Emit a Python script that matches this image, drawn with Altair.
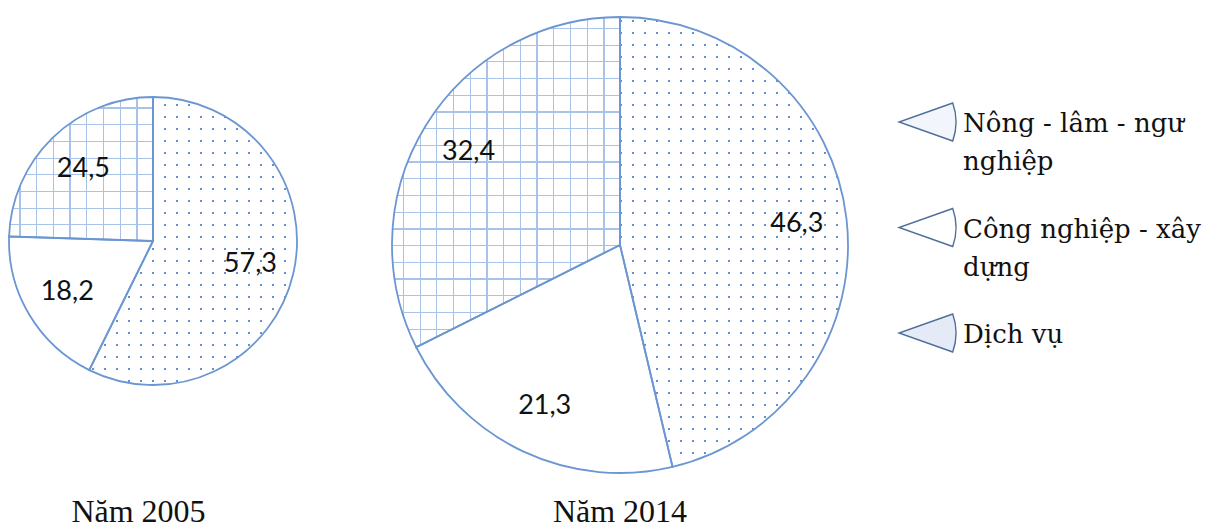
import math
import altair as alt
import pandas as pd

# ---------------- data ----------------
categories = ["Nông - lâm - ngư nghiệp", "Công nghiệp - xây dựng", "Dịch vụ"]
years = ["2005", "2014"]
values_2005 = [57.3, 18.2, 24.5]
values_2014 = [46.3, 21.3, 32.4]
value_labels_2005 = ["57,3", "18,2", "24,5"]
value_labels_2014 = ["46,3", "21,3", "32,4"]
legend_line1 = ["Nông - lâm - ngư", "Công nghiệp - xây", "Dịch vụ"]
legend_line2 = ["nghiệp", "dựng", ""]
titles = ["Năm 2005", "Năm 2014"]

rows = []
for yr, vals, labs in [("2005", values_2005, value_labels_2005),
                       ("2014", values_2014, value_labels_2014)]:
    for i, (c, v, l) in enumerate(zip(categories, vals, labs)):
        rows.append({"year": yr, "cat": c, "idx": i, "value": v, "label": l})
df = pd.DataFrame(rows)
legend_df = pd.DataFrame({"cat": categories, "idx": list(range(3)),
                          "line1": legend_line1, "line2": legend_line2})
title_df = pd.DataFrame({"title": titles, "idx": [0, 1]})

# ---------------- style / layout ----------------
EDGE = "#6b96d2"
DOT = "#6590d0"
GRID = "#a9c2e8"
CLEAR = "rgba(255,255,255,0)"
SERIF = "Liberation Serif"
LEGEND_FONT = "DejaVu Serif"
PIES = {"2005": (145, 233, 144, 100), "2014": (612, 237, 228, 178)}
theta_scale = alt.Scale(domain=[0, 100], range=[0, 2 * math.pi])


def wedge_bbox(cx, cy, r, a0, a1):
    pts = [(cx, cy)]
    angs = [a0, a1] + [a for a in (0, 90, 180, 270, 360) if a0 < a < a1]
    for a in angs:
        t = math.radians(a)
        pts.append((cx + r * math.sin(t), cy - r * math.cos(t)))
    xs = [p[0] for p in pts]
    ys = [p[1] for p in pts]
    return min(xs), max(xs), min(ys), max(ys)


def stripes(lo, hi, period, width, line, bg, vertical, phase=0.0):
    length = hi - lo
    stops = [(0.0, bg)]
    k = math.floor((lo - phase) / period)
    while True:
        p = phase + k * period
        if p >= hi:
            break
        a, b = max(p, lo), min(p + width, hi)
        if b > a:
            o1, o2 = round((a - lo) / length, 5), round((b - lo) / length, 5)
            stops += [(o1, bg), (o1, line), (o2, line), (o2, bg)]
        k += 1
    stops.append((1.0, bg))
    gs = [alt.GradientStop(offset=o, color=c) for o, c in stops]
    if vertical:
        return alt.LinearGradient(gradient="linear", stops=gs, x1=0, y1=0, x2=1, y2=0)
    return alt.LinearGradient(gradient="linear", stops=gs, x1=0, y1=0, x2=0, y2=1)


layers = []
for yr, vals in [("2005", values_2005), ("2014", values_2014)]:
    cx, cy, r, rl = PIES[yr]
    base = (alt.Chart(df)
            .transform_filter(alt.datum.year == yr)
            .transform_stack(stack="value", as_=["v0", "v1"], groupby=["year"],
                             sort=[alt.SortField("idx", order="ascending")]))
    enc = dict(theta=alt.Theta("v0:Q", scale=theta_scale), theta2=alt.Theta2("v1:Q"),
               x=alt.value(cx), y=alt.value(cy))
    layers.append(base.mark_arc(outerRadius=r, fill="white", strokeWidth=0).encode(**enc))

    cum = [0]
    for v in vals:
        cum.append(cum[-1] + v)
    # dotted pattern on slice 0
    a0, a1 = cum[0] * 3.6, cum[1] * 3.6
    x0, x1, y0, y1 = wedge_bbox(cx, cy, r, a0, a1)
    gA = stripes(x0, x1, 12, 2, DOT, CLEAR, True)
    gB = stripes(y0, y1, 12, 2, CLEAR, "#ffffff", False)
    for g in (gA, gB):
        layers.append(base.transform_filter(alt.datum.idx == 0)
                      .mark_arc(outerRadius=r, fill=g, strokeWidth=0).encode(**enc))
    # grid pattern on slice 2
    a0, a1 = cum[2] * 3.6, cum[3] * 3.6
    x0, x1, y0, y1 = wedge_bbox(cx, cy, r, a0, a1)
    gV = stripes(x0, x1, 16.7, 1.2, GRID, CLEAR, True, phase=cx % 16.7)
    gH = stripes(y0, y1, 16.7, 1.2, GRID, CLEAR, False, phase=cy % 16.7)
    for g in (gV, gH):
        layers.append(base.transform_filter(alt.datum.idx == 2)
                      .mark_arc(outerRadius=r, fill=g, strokeWidth=0).encode(**enc))
    # outlines
    layers.append(base.mark_arc(outerRadius=r, fill="white", fillOpacity=0,
                                stroke=EDGE, strokeWidth=1.8).encode(**enc))
    # value labels
    layers.append(base.transform_calculate(mid="(datum.v0 + datum.v1) / 2")
                  .mark_text(radius=rl, font="Lato", fontSize=27, color="#111111")
                  .encode(theta=alt.Theta("mid:Q", scale=theta_scale), text="label:N",
                          x=alt.value(cx), y=alt.value(cy)))

# titles
layers.append(alt.Chart(title_df).mark_text(font=SERIF, fontSize=32,
                                            color="#111111", baseline="alphabetic")
              .encode(x=alt.X("idx:Q", scale=alt.Scale(domain=[0, 1], range=[130.5, 612]), axis=None),
                      y=alt.value(514), text="title:N"))

# legend
leg_y = alt.Y("idx:Q", stack=None, scale=alt.Scale(domain=[0, 2], range=[114, 325]), axis=None)
layers.append(alt.Chart(legend_df)
              .mark_arc(theta=math.pi / 2 - 0.34, theta2=math.pi / 2 + 0.34, outerRadius=57,
                        stroke="#4f6f9a", strokeWidth=1.4)
              .encode(x=alt.value(891), y=leg_y,
                      fill=alt.Fill("cat:N", scale=alt.Scale(domain=categories,
                                                             range=["#f2f5fb", "#ffffff", "#e4ebf7"]),
                                    legend=None)))
layers.append(alt.Chart(legend_df)
              .mark_text(align="left", baseline="alphabetic", dy=10,
                         font=LEGEND_FONT, fontSize=26, color="#111111")
              .encode(x=alt.value(955), y=leg_y, text="line1:N"))
layers.append(alt.Chart(legend_df)
              .mark_text(align="left", baseline="alphabetic", dy=48,
                         font=LEGEND_FONT, fontSize=26, color="#111111")
              .encode(x=alt.value(955), y=leg_y, text="line2:N"))

chart = (alt.layer(*layers)
         .properties(width=1206, height=521, padding=0, autosize="none")
         .configure_view(stroke=None))
chart.save("out.html", embed_options={"renderer": "svg", "actions": False})
